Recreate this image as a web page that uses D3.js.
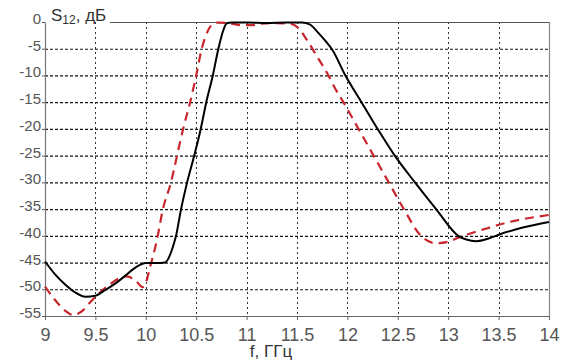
<!DOCTYPE html>
<html>
<head>
<meta charset="utf-8">
<script src="https://cdn.jsdelivr.net/npm/d3@7"></script>
<style>
  body { margin: 0; background: #fff; }
  svg { display: block; }
</style>
</head>
<body>
<svg id="chart" width="566" height="363"></svg>
<script>
// ---- data ----
const xTicks = [9, 9.5, 10, 10.5, 11, 11.5, 12, 12.5, 13, 13.5, 14];
const xTickLabels = ["9", "9.5", "10", "10.5", "11", "11.5", "12", "12.5", "13", "13.5", "14"];
const yTicks = [0, -5, -10, -15, -20, -25, -30, -35, -40, -45, -50, -55];
const yTickLabels = ["0", "-5", "-10", "-15", "-20", "-25", "-30", "-35", "-40", "-45", "-50", "-55"];

const blackF = [9.0, 9.1, 9.2, 9.3, 9.4, 9.5, 9.6, 9.7, 9.8, 9.9, 10.0, 10.1, 10.19, 10.27, 10.30, 10.35, 10.41, 10.48, 10.545, 10.6, 10.665, 10.72, 10.77, 10.8, 10.85, 11.0, 11.2, 11.4, 11.55, 11.63, 11.7, 11.78, 11.85, 11.98, 12.14, 12.30, 12.47, 12.67, 12.88, 13.10, 13.18, 13.28, 13.4, 13.5, 13.75, 14.0];
const blackS = [-44.8, -47.2, -49.1, -50.6, -51.4, -51.2, -50.1, -48.9, -47.4, -45.9, -45.1, -45.1, -45.0, -42, -40, -35, -30, -25, -20, -15, -10, -5, -1.5, -0.3, -0.1, -0.1, -0.2, -0.1, -0.1, -0.5, -1.8, -3.5, -5.2, -10, -15, -20, -25, -30, -35, -40, -40.7, -41, -40.5, -39.8, -38.4, -37.4];

const redF = [9.0, 9.1, 9.2, 9.28, 9.38, 9.45, 9.55, 9.65, 9.74, 9.81, 9.9, 9.97, 10.0, 10.04, 10.11, 10.17, 10.25, 10.31, 10.37, 10.44, 10.5, 10.555, 10.62, 10.67, 10.72, 10.85, 10.95, 11.05, 11.15, 11.3, 11.45, 11.5, 11.6, 11.7, 11.8, 11.88, 11.96, 12.11, 12.26, 12.41, 12.56, 12.73, 12.88, 13.0, 13.12, 13.35, 13.61, 14.0];
const redS = [-49.5, -52, -54, -54.8, -53.9, -52.4, -50.5, -49, -47.9, -47.6, -48.4, -49.6, -48.8, -46, -40.8, -35, -30, -25, -20, -15, -10, -5, -1.5, -0.3, -0.1, -0.3, -0.6, -0.6, -0.3, -0.2, -0.4, -0.9, -3.4, -6.5, -9.6, -12.5, -15, -20, -25, -30, -35, -40, -41.4, -41.1, -40.2, -38.8, -37.4, -36.1];

const yLabel = "S";
const yLabelSub = "12";
const yLabelRest = ", дБ";
const xLabel = "f, ГГц";

// ---- layout ----
const svg = d3.select("#chart");
const x0 = 45, x1 = 549, y0 = 22, y1 = 316;
const x = d3.scaleLinear().domain([9, 14]).range([x0, x1]);
const y = d3.scaleLinear().domain([0, -55]).range([y0, y1]);

// grid
const grid = svg.append("g");
grid.selectAll("line.hg").data(yTicks.filter(v => v !== 0 && v !== -55)).enter().append("line")
  .attr("x1", x0).attr("x2", x1)
  .attr("y1", d => y(d) + 0.5).attr("y2", d => y(d) + 0.5)
  .attr("stroke", "#111").attr("stroke-width", 1.2).attr("stroke-dasharray", "3,2");
grid.selectAll("line.vg").data(xTicks.filter(v => v !== 9 && v !== 14)).enter().append("line")
  .attr("x1", d => Math.round(x(d)) + 0.5).attr("x2", d => Math.round(x(d)) + 0.5)
  .attr("y1", y0).attr("y2", y1)
  .attr("stroke", "#333").attr("stroke-width", 1).attr("stroke-dasharray", "2,3");

// frame
svg.append("line").attr("x1", 110).attr("x2", x1).attr("y1", y0 + 0.5).attr("y2", y0 + 0.5)
  .attr("stroke", "#555").attr("stroke-width", 1.2);
svg.append("line").attr("x1", x1 + 0.5).attr("x2", x1 + 0.5).attr("y1", y0).attr("y2", y1)
  .attr("stroke", "#888").attr("stroke-width", 1.2);

// axes
const xAxis = d3.axisBottom(x).tickValues(xTicks).tickFormat((d, i) => xTickLabels[i]).tickSizeInner(4).tickSizeOuter(0);
const gx = svg.append("g").attr("transform", `translate(0,${y1})`).call(xAxis);
gx.select(".domain").attr("stroke", "#666").attr("stroke-width", 1.2);
gx.selectAll(".tick line").attr("stroke", "#666");
gx.selectAll("text").attr("fill", "#555").attr("font-family", "Liberation Sans, Arial, sans-serif")
  .attr("font-size", 18).attr("dy", null).attr("y", 25);

const yAxis = d3.axisLeft(y).tickValues(yTicks).tickFormat((d, i) => yTickLabels[i]).tickSizeInner(3).tickSizeOuter(0);
const gy = svg.append("g").attr("transform", `translate(${x0},0)`).call(yAxis);
gy.select(".domain").attr("stroke", "#777").attr("stroke-width", 1.2);
gy.selectAll(".tick line").attr("stroke", "#555");
gy.selectAll("text").attr("fill", "#555").attr("font-family", "Liberation Sans, Arial, sans-serif")
  .attr("font-size", 15).attr("x", -4).attr("dy", "0.1em");

// y label
const yl = svg.append("text").attr("x", 51).attr("y", 21)
  .attr("font-family", "Liberation Sans, Arial, sans-serif").attr("font-size", 17).attr("fill", "#333");
yl.append("tspan").text(yLabel);
yl.append("tspan").attr("font-size", 12).attr("dy", 3).text(yLabelSub);
yl.append("tspan").attr("dy", -3).text(yLabelRest);

// x label
svg.append("text").attr("x", 271).attr("y", 357).attr("text-anchor", "middle")
  .attr("font-family", "Liberation Sans, Arial, sans-serif").attr("font-size", 17).attr("fill", "#333")
  .text(xLabel);

// curves
const line = d3.line().x(d => x(d[0])).y(d => y(d[1])).curve(d3.curveMonotoneX);
const redData = redF.map((f, i) => [f, redS[i]]);
const blackData = blackF.map((f, i) => [f, blackS[i]]);

svg.append("path").datum(redData).attr("d", line).attr("fill", "none")
  .attr("stroke", "#c8262c").attr("stroke-width", 2.2).attr("stroke-dasharray", "9,6");
svg.append("path").datum(blackData).attr("d", line).attr("fill", "none")
  .attr("stroke", "#000").attr("stroke-width", 2);
</script>
</body>
</html>
